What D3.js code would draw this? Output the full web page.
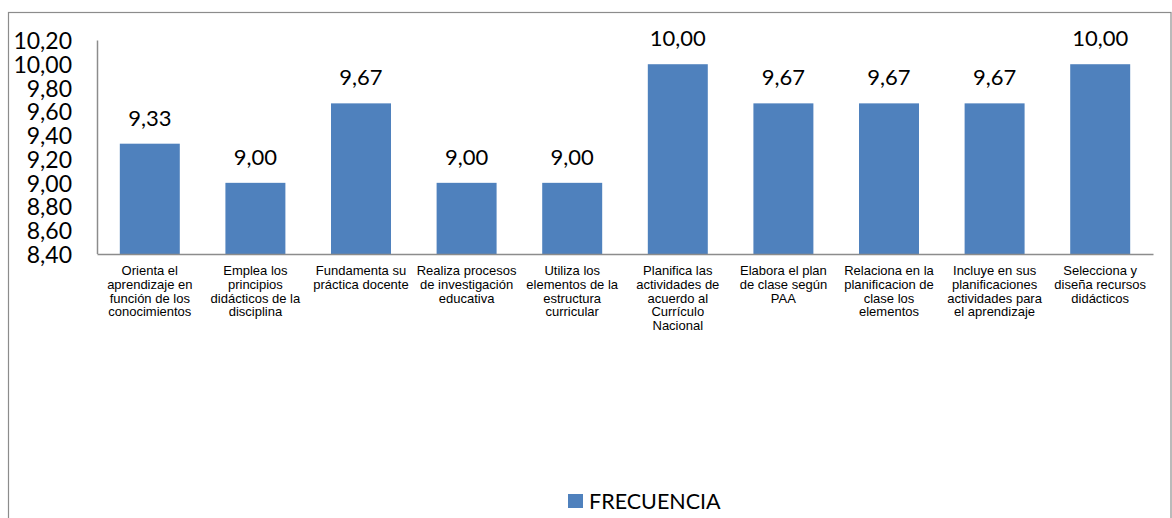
<!DOCTYPE html>
<html>
<head>
<meta charset="utf-8">
<script src="https://cdn.jsdelivr.net/npm/d3@7"></script>
<style>
  html, body { margin: 0; padding: 0; background: #fff; }
  svg { display: block; }
</style>
</head>
<body>
<svg id="chart" width="1172" height="518"></svg>
<script>
const categories = [
  "Orienta el aprendizaje en función de los conocimientos",
  "Emplea los principios didácticos de la disciplina",
  "Fundamenta su práctica docente",
  "Realiza procesos de investigación educativa",
  "Utiliza los elementos de la estructura curricular",
  "Planifica las actividades de acuerdo al Currículo Nacional",
  "Elabora el plan de clase según PAA",
  "Relaciona en la planificacion de clase los elementos",
  "Incluye en sus planificaciones actividades para el aprendizaje",
  "Selecciona y diseña recursos didácticos"
];
const categoryLines = [
  ["Orienta el", "aprendizaje en", "función de los", "conocimientos"],
  ["Emplea los", "principios", "didácticos de la", "disciplina"],
  ["Fundamenta su", "práctica docente"],
  ["Realiza procesos", "de investigación", "educativa"],
  ["Utiliza los", "elementos de la", "estructura", "curricular"],
  ["Planifica las", "actividades de", "acuerdo al", "Currículo", "Nacional"],
  ["Elabora el plan", "de clase según", "PAA"],
  ["Relaciona en la", "planificacion de", "clase los", "elementos"],
  ["Incluye en sus", "planificaciones", "actividades para", "el aprendizaje"],
  ["Selecciona y", "diseña recursos", "didácticos"]
];
const frecuencia = [9.33, 9.00, 9.67, 9.00, 9.00, 10.00, 9.67, 9.67, 9.67, 10.00];
const yTicks = [8.4, 8.6, 8.8, 9.0, 9.2, 9.4, 9.6, 9.8, 10.0, 10.2];
const seriesName = "FRECUENCIA";

const svg = d3.select("#chart");
const fmt = v => v.toFixed(2).replace(".", ",");
const numFont = "Lato, 'Open Sans', sans-serif";

// outer frame
svg.append("rect")
  .attr("x", 8.5).attr("y", 12.5)
  .attr("width", 1162.5).attr("height", 520)
  .attr("fill", "none").attr("stroke", "#8c8c8c").attr("stroke-width", 1.2);

const x = d3.scaleBand()
  .domain(categories)
  .range([97, 1153])
  .paddingInner(0.432)
  .paddingOuter(0.216);

const y = d3.scaleLinear().domain([8.4, 10.2]).range([254, 40.5]);

// bars
svg.append("g").selectAll("rect")
  .data(frecuencia)
  .join("rect")
  .attr("x", (d, i) => x(categories[i]))
  .attr("y", d => y(d))
  .attr("width", x.bandwidth())
  .attr("height", d => y(8.4) - y(d))
  .attr("fill", "#4F81BD");

// data labels
svg.append("g").selectAll("text")
  .data(frecuencia)
  .join("text")
  .attr("x", (d, i) => x(categories[i]) + x.bandwidth() / 2)
  .attr("y", d => y(d) - 18)
  .attr("text-anchor", "middle")
  .attr("font-family", numFont)
  .attr("font-size", 22)
  .attr("fill", "#000")
  .text(d => fmt(d));

// y axis (labels set off to the left, like the reference)
const yAxis = d3.axisLeft(y).tickValues(yTicks).tickSize(0).tickPadding(0).tickFormat(fmt);
const gy = svg.append("g").attr("transform", "translate(72,0)").call(yAxis);
gy.select(".domain").remove();
gy.selectAll("text")
  .attr("font-family", numFont)
  .attr("font-size", 23)
  .attr("fill", "#000")
  .attr("dy", "0.36em");

svg.append("line")
  .attr("x1", 97.5).attr("x2", 97.5)
  .attr("y1", 40.5).attr("y2", 254)
  .attr("stroke", "#8c8c8c").attr("stroke-width", 1.5);

// x axis
const xAxis = d3.axisBottom(x).tickSize(0).tickFormat("");
const gx = svg.append("g").attr("transform", "translate(0,254)").call(xAxis);
gx.select(".domain").attr("stroke", "#8c8c8c").attr("stroke-width", 1.5);

const lab = svg.append("g").selectAll("text")
  .data(categories)
  .join("text")
  .attr("x", d => x(d) + x.bandwidth() / 2)
  .attr("y", 275)
  .attr("text-anchor", "middle")
  .attr("font-family", "'Liberation Sans', Arial, sans-serif")
  .attr("font-size", 13)
  .attr("fill", "#000");
lab.each(function(d, i) {
  const t = d3.select(this);
  categoryLines[i].forEach((ln, k) => {
    t.append("tspan")
      .attr("x", x(d) + x.bandwidth() / 2)
      .attr("dy", k === 0 ? 0 : 13.8)
      .text(ln);
  });
});

// legend
const leg = svg.append("g");
leg.append("rect")
  .attr("x", 568).attr("y", 494).attr("width", 15).attr("height", 14)
  .attr("fill", "#4F81BD");
leg.append("text")
  .attr("x", 589).attr("y", 508.5)
  .attr("font-family", numFont)
  .attr("font-size", 21.5)
  .attr("fill", "#000")
  .text(seriesName);
</script>
</body>
</html>
